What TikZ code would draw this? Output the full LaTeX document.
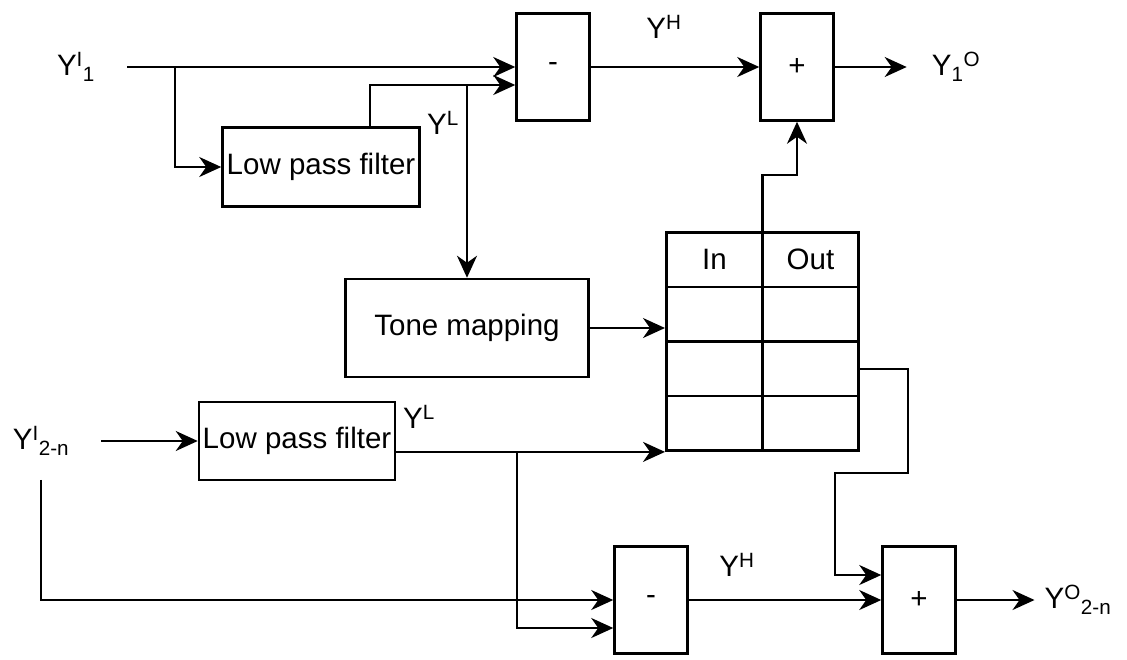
\documentclass[tikz,border=0pt]{standalone}
\usepackage{fontspec}
\setmainfont{Liberation Sans}
\usetikzlibrary{arrows.meta,positioning,calc,matrix}

\begin{document}
\begin{tikzpicture}[
    x=1pt, y=-1pt,
    font=\fontsize{29.5}{35}\selectfont,
    block/.style={rectangle, draw, line width=2.5pt, inner sep=0pt, minimum width=197pt, minimum height=79pt},
    op/.style={rectangle, draw, line width=2.5pt, inner sep=0pt, minimum width=73pt, minimum height=107pt},
    sig/.style={inner sep=0pt},
    arrow/.style={-{Stealth[length=22pt, width=20pt, inset=7pt]}, line width=2.2pt}
]
\useasboundingbox (0,0) rectangle (1127,659);

% Channel 1
\node[sig] (in1) at (76,67) {Y\textsuperscript{I}\textsubscript{1}};
\node[op] (minus1) at (553,67) {-};
\node[op] (plus1) at (797,67) {+};
\node[sig] (out1) at (956,67) {Y\textsubscript{1}\textsuperscript{O}};
\node[block] (lpf1) at (321,167) {Low pass filter};
\node[sig] (yh1) at (664,27) {Y\textsuperscript{H}};
\node[sig] (yl1) at (443,123) {Y\textsuperscript{L}};
\node[block, minimum width=243pt, minimum height=98pt] (tone) at (467,328) {Tone mapping};

% Lookup table
\matrix[matrix of nodes, nodes in empty cells, anchor=north west, inner sep=0pt,
    column sep=-2.5pt, row sep=-2.5pt,
    nodes={draw, line width=2.5pt, minimum width=96pt, minimum height=54.5pt, anchor=center}]
    (lut) at (665,231) {
    In & Out \\
       &     \\
       &     \\
       &     \\
};

% Channels 2-n
\node[sig] (in2) at (41,441) {Y\textsuperscript{I}\textsubscript{2-n}};
\node[block, minimum width=196pt, minimum height=78pt] (lpf2) at (297,441) {Low pass filter};
\node[sig] (yl2) at (419,417) {Y\textsuperscript{L}};
\node[op] (minus2) at (651,600) {-};
\node[op] (plus2) at (919,600) {+};
\node[sig] (yh2) at (737,565) {Y\textsuperscript{H}};
\node[sig] (out2) at (1078,600) {Y\textsuperscript{O}\textsubscript{2-n}};

% Branch points
\coordinate (split1) at (175,67);
\coordinate (min1b) at ([yshift=-18pt]minus1.west);
\path (lut.south west) ++(-148,0) coordinate (split2);

% Arrows
\draw[arrow] ([xshift=32pt]in1.east) -- (minus1.west);
\draw[arrow] (split1) |- (lpf1.west);
\draw[arrow] ([xshift=49pt]lpf1.north) |- (min1b);
\draw[arrow] (tone.north |- min1b) -- (tone.north);
\draw[arrow] (minus1) -- (plus1);
\draw[arrow] (plus1) -- ([xshift=-25pt]out1.west);
\draw[arrow] (lut.north) -- ++(0,-56) -| (plus1.south);
\draw[arrow] (tone) -- (tone -| lut.west);
\draw[arrow] ([xshift=32pt]in2.east) -- (lpf2.west);
\draw[arrow] (lpf2.east |- lut.south west) -- (lut.south west);
\draw[arrow] (split2) |- ([yshift=-28pt]minus2.west);
\draw[arrow] ([yshift=-24pt]in2.south) |- (minus2.west);
\draw[arrow] (minus2) -- (plus2);
\draw[arrow] (lut-3-2.east) -- ++(48,0) -- ++(0,104) -- ++(-73,0) |- ([yshift=25pt]plus2.west);
\draw[arrow] (plus2) -- ([xshift=-10pt]out2.west);
\end{tikzpicture}
\end{document}
